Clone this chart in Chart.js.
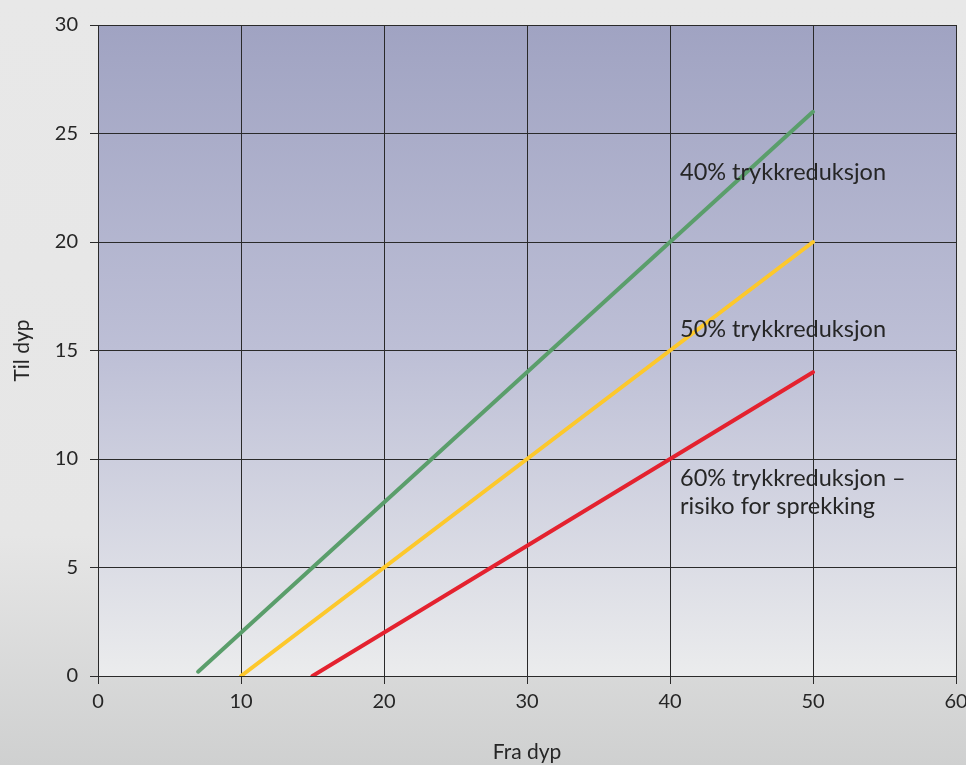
<!DOCTYPE html>
<html>
<head>
<meta charset="utf-8">
<script src="https://cdn.jsdelivr.net/npm/chart.js@4"></script>
<style>
html,body{margin:0;padding:0;}
body{width:966px;height:765px;background:linear-gradient(to bottom,#e8e8e8 0%,#e6e6e6 70%,#cfd0d0 100%);overflow:hidden;}
#wrap{position:absolute;left:0;top:0;width:966px;height:765px;}
</style>
</head>
<body>
<div id="wrap"><canvas id="c" width="966" height="765"></canvas></div>
<script>
// Data
const xTicks = [0,10,20,30,40,50,60];
const yTicks = [0,5,10,15,20,25,30];
const green40 = [{x:7,y:0.2},{x:50,y:26}];
const yellow50 = [{x:10,y:0},{x:50,y:20}];
const red60 = [{x:15,y:0},{x:50,y:14}];
const seriesNames = ['40% trykkreduksjon','50% trykkreduksjon','60% trykkreduksjon – risiko for sprekking'];
const labelTexts = [['40% trykkreduksjon'],['50% trykkreduksjon'],['60% trykkreduksjon –','risiko for sprekking']];
const labelAnchors = [{x:40.7,y:23.2},{x:40.7,y:15.95},{x:40.7,y:9.12}];

const FONT = "Lato, 'Open Sans', sans-serif";

const bgPlugin = {
  id:'bgPlugin',
  beforeDraw(chart){
    const {ctx, chartArea:a} = chart;
    const g = ctx.createLinearGradient(0,a.top,0,a.bottom);
    g.addColorStop(0,'#a0a3c2');
    g.addColorStop(0.5,'#bdbfd6');
    g.addColorStop(1,'#ebeced');
    ctx.save();
    ctx.fillStyle = g;
    ctx.fillRect(a.left,a.top,a.right-a.left,a.bottom-a.top);
    ctx.restore();
  }
};
const textPlugin = {
  id:'textPlugin',
  afterDatasetsDraw(chart){
    const {ctx, scales:{x,y}} = chart;
    ctx.save();
    ctx.font = "23.5px " + FONT;
    ctx.fillStyle = '#262626';
    ctx.textAlign = 'left';
    ctx.textBaseline = 'middle';
    labelTexts.forEach((lines,i)=>{
      const px = x.getPixelForValue(labelAnchors[i].x);
      const py = y.getPixelForValue(labelAnchors[i].y);
      lines.forEach((t,j)=>ctx.fillText(t,px,py+j*28));
    });
    ctx.restore();
  }
};

new Chart(document.getElementById('c'),{
  type:'scatter',
  data:{
    datasets:[
      {label:seriesNames[0],data:green40,showLine:true,borderColor:'#5a9e6b',borderWidth:4,pointRadius:0,borderCapStyle:'round'},
      {label:seriesNames[1],data:yellow50,showLine:true,borderColor:'#fdc82b',borderWidth:4,pointRadius:0,borderCapStyle:'round'},
      {label:seriesNames[2],data:red60,showLine:true,borderColor:'#e4222f',borderWidth:4,pointRadius:0,borderCapStyle:'round'}
    ]
  },
  options:{
    responsive:false,
    animation:false,
    devicePixelRatio:1,
    layout:{padding:{left:0,right:10,top:25,bottom:0}},
    plugins:{legend:{display:false},tooltip:{enabled:false}},
    scales:{
      x:{
        type:'linear',min:0,max:60,
        afterBuildTicks(s){s.ticks = xTicks.map(v=>({value:v}));},
        afterFit(s){s.height = 89; s.paddingLeft = 0; s.paddingRight = 0;},
        grid:{color:'#2a2a2a',lineWidth:1,tickLength:8},
        border:{color:'#2a2a2a',width:1},
        ticks:{font:{family:FONT,size:20},color:'#262626',padding:6},
        title:{display:true,text:'Fra dyp',font:{family:FONT,size:21},color:'#262626',padding:{top:14,bottom:0}}
      },
      y:{
        type:'linear',min:0,max:30,
        afterBuildTicks(s){s.ticks = yTicks.map(v=>({value:v}));},
        afterFit(s){s.width = 98; s.paddingTop = 0; s.paddingBottom = 0;},
        grid:{color:'#2a2a2a',lineWidth:1,tickLength:8},
        border:{color:'#2a2a2a',width:1},
        ticks:{font:{family:FONT,size:20},color:'#262626',padding:12},
        title:{display:true,text:'Til dyp',font:{family:FONT,size:21},color:'#262626',padding:{top:10,bottom:0}}
      }
    }
  },
  plugins:[bgPlugin,textPlugin]
});
</script>
</body>
</html>
